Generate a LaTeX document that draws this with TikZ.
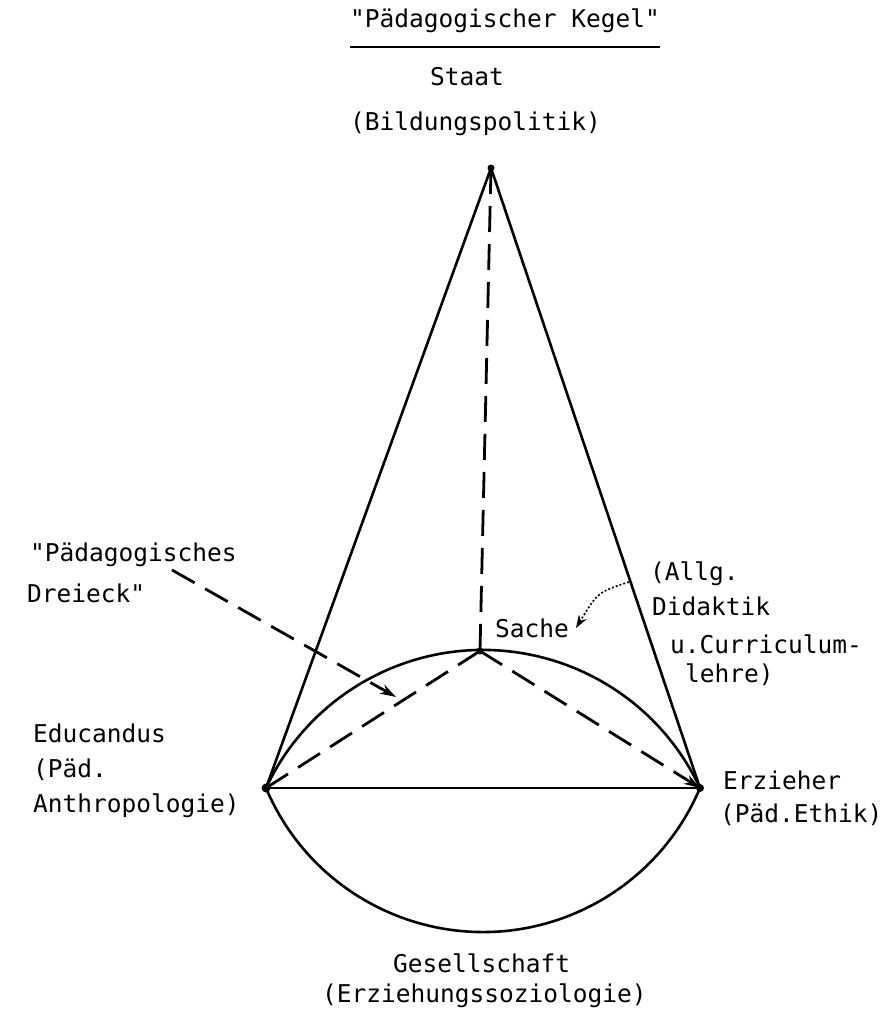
\documentclass[tikz,border=0pt]{standalone}
\usepackage{fontspec}
\newfontfamily\tw{DejaVu Sans Mono}
\usetikzlibrary{arrows.meta}
\begin{document}
\begin{tikzpicture}[x=1pt,y=-1pt,
  lbl/.style={anchor=base west, inner sep=0pt, font=\tw\fontsize{24.5}{30}\selectfont},
  cone/.style={line width=2.6pt, line cap=round, line join=round},
  dashline/.style={line width=2.8pt, dash pattern=on 26pt off 12pt},
  dotline/.style={line width=1.6pt, dash pattern=on 2pt off 2pt},
  tip/.style={-{Stealth[length=16pt,width=10pt]}}]
\useasboundingbox (0,0) rectangle (889,1021);

% points
\coordinate (A) at (491,168);
\coordinate (L) at (266,788);
\coordinate (R) at (700,788);
\coordinate (S) at (480,651);
\coordinate (d1) at (172,570);
\coordinate (d2) at (396,697);
\coordinate (c1) at (629,582);
\coordinate (c2) at (576,628);

% cone
\draw[cone] (L) -- (A) -- (R);
\draw[cone] (L) -- (R);
\draw[cone] (R) arc[start angle=-25.08, end angle=-154.92, radius=239.6];
\draw[cone] (L) arc[start angle=157.14, end angle=22.86, radius=235.5];

% dashed triangle
\draw[dashline] (A) -- (S);
\draw[dashline] (S) -- (L);
\draw[dashline, tip] (S) -- (R);

% vertices
\fill (A) circle[radius=3.5];
\fill (L) circle[radius=4.5];
\fill (R) circle[radius=4];
\fill (S) circle[radius=3.5];

% pointer arrows
\draw[dashline, tip] (d1) -- (d2);
\draw[dotline, -{Stealth[length=13pt,width=9pt]}] (c1) .. controls (598,592) .. (c2);

% labels
\node[lbl] (title) at (350,27) {"Pädagogischer Kegel"};
\draw[line width=2pt] ([yshift=-20pt]title.base west) -- ([yshift=-20pt]title.base east);
\node[lbl] (staat) at (430,85) {Staat};
\node[lbl] (bild) at (350,130) {(Bildungspolitik)};
\node[lbl] (pd1) at (30,561) {"Pädagogisches};
\node[lbl] (pd2) at (27,602) {Dreieck"};
\node[lbl] (sache) at (495,637) {Sache};
\node[lbl] (al1) at (650,580) {(Allg.};
\node[lbl] (al2) at (652,615) {Didaktik};
\node[lbl] (al3) at (670,653) {u.Curriculum-};
\node[lbl] (al4) at (685,682) {lehre)};
\node[lbl] (ed1) at (33,742) {Educandus};
\node[lbl] (ed2) at (33,777) {(Päd.};
\node[lbl] (ed3) at (33,812) {Anthropologie)};
\node[lbl] (er1) at (723,789) {Erzieher};
\node[lbl] (er2) at (720,822) {(Päd.Ethik)};
\node[lbl] (ge1) at (393,972) {Gesellschaft};
\node[lbl] (ge2) at (322,1002) {(Erziehungssoziologie)};
\end{tikzpicture}
\end{document}
